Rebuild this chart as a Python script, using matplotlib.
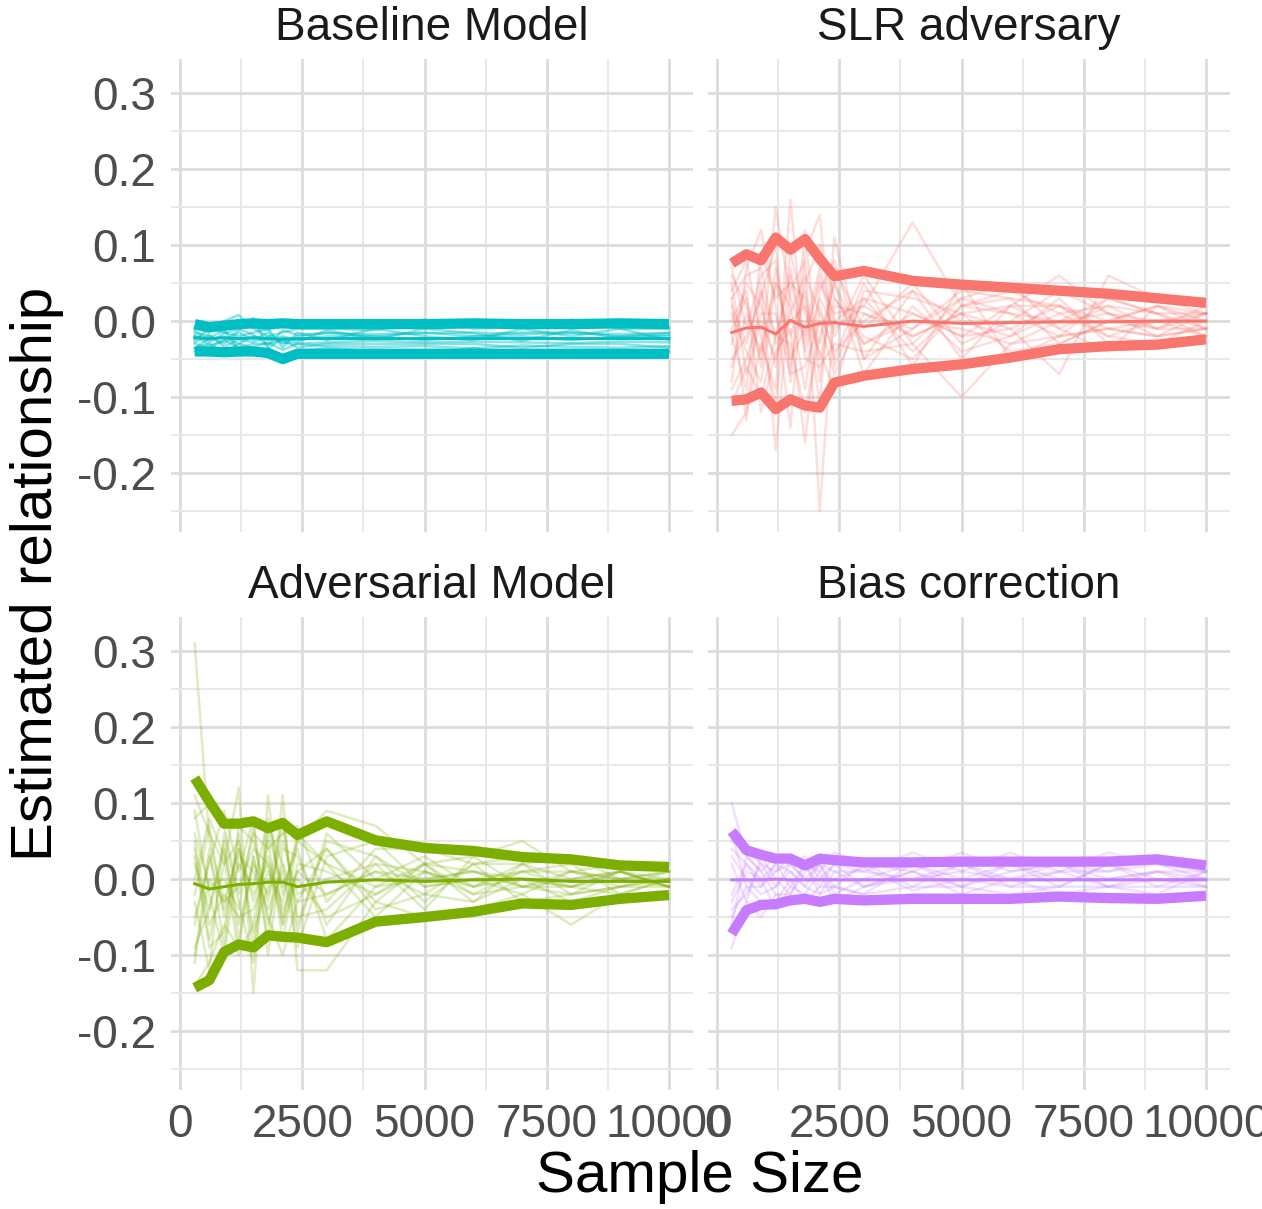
import matplotlib
matplotlib.use("Agg")
import matplotlib.pyplot as plt
import numpy as np

plt.rcParams['font.family'] = ['Liberation Sans', 'DejaVu Sans']

# ---------------- data ----------------
sample_size = [300, 600, 900, 1200, 1500, 1800, 2100, 2400, 3000, 4000, 5000, 6000, 7000, 8000, 9000, 10000]

panel_titles = ["Baseline Model", "SLR adversary", "Adversarial Model", "Bias correction"]
panel_colors = ["#00BFC4", "#F8766D", "#7CAE00", "#C77CFF"]

# Baseline Model
base_upper = [-0.004, -0.008, -0.006, -0.004, -0.003, -0.004, -0.003, -0.004, -0.004, -0.004, -0.004, -0.003, -0.004, -0.004, -0.003, -0.004]
base_mean  = [-0.022, -0.023, -0.022, -0.023, -0.022, -0.023, -0.024, -0.023, -0.023, -0.023, -0.023, -0.023, -0.023, -0.023, -0.023, -0.023]
base_lower = [-0.040, -0.040, -0.041, -0.040, -0.040, -0.042, -0.050, -0.043, -0.043, -0.043, -0.043, -0.043, -0.043, -0.043, -0.043, -0.043]
base_runs = [
    [-0.010, -0.015, 0.000, 0.008, -0.010, -0.020, -0.015, -0.010, -0.010, -0.012, 0.002, -0.010, -0.008, 0.002, -0.010, -0.010],
    [-0.035, -0.030, -0.040, -0.030, -0.035, -0.040, -0.052, -0.040, -0.035, -0.040, -0.045, -0.035, -0.048, -0.040, -0.040, -0.040],
    [-0.020, -0.025, -0.020, -0.030, -0.020, -0.025, -0.020, -0.025, -0.020, -0.020, -0.025, -0.020, -0.020, -0.025, -0.020, -0.020],
    [-0.015, -0.020, -0.030, -0.015, -0.025, -0.015, -0.030, -0.020, -0.015, -0.020, -0.015, -0.020, -0.015, -0.015, -0.020, -0.015],
    [-0.030, -0.035, -0.025, -0.035, -0.030, -0.030, -0.025, -0.035, -0.030, -0.030, -0.030, -0.030, -0.035, -0.030, -0.030, -0.035],
    [-0.025, -0.010, -0.015, -0.020, -0.015, -0.010, -0.035, -0.015, -0.025, -0.010, -0.020, -0.025, -0.010, -0.020, -0.010, -0.025],
    [-0.008, -0.012, -0.010, -0.006, -0.008, -0.012, -0.006, -0.008, -0.007, -0.008, -0.006, -0.007, -0.008, -0.006, -0.007, -0.008],
    [-0.040, -0.038, -0.036, -0.038, -0.040, -0.036, -0.045, -0.040, -0.040, -0.038, -0.040, -0.041, -0.040, -0.039, -0.040, -0.041],
    [-0.028, -0.018, -0.034, -0.024, -0.028, -0.020, -0.028, -0.030, -0.028, -0.026, -0.028, -0.027, -0.028, -0.029, -0.027, -0.028],
    [-0.012, -0.028, -0.016, -0.010, -0.018, -0.032, -0.012, -0.018, -0.016, -0.017, -0.016, -0.015, -0.017, -0.016, -0.017, -0.016],
    [-0.036, -0.022, -0.012, -0.038, -0.034, -0.028, -0.038, -0.030, -0.033, -0.034, -0.033, -0.036, -0.032, -0.034, -0.035, -0.033],
    [-0.018, -0.032, -0.026, -0.012, 0.004, -0.036, -0.022, -0.028, -0.012, -0.024, -0.010, -0.016, -0.026, -0.012, -0.022, -0.018],
]

# SLR adversary
slr_upper = [0.076, 0.088, 0.080, 0.110, 0.094, 0.108, 0.082, 0.059, 0.066, 0.053, 0.048, 0.044, 0.040, 0.036, 0.030, 0.024]
slr_mean  = [-0.015, -0.009, -0.008, -0.017, 0.001, -0.008, -0.003, -0.002, -0.007, 0.000, -0.003, -0.002, -0.001, -0.001, 0.000, 0.000]
slr_lower = [-0.105, -0.103, -0.094, -0.116, -0.103, -0.111, -0.114, -0.081, -0.072, -0.063, -0.057, -0.048, -0.037, -0.033, -0.031, -0.024]
slr_runs = [
    [0.06, 0.02, -0.05, 0.15, 0.03, -0.02, 0.05, 0.01, 0.02, 0.13, 0.02, 0.01, 0.00, 0.03, 0.01, 0.01],
    [-0.15, -0.12, -0.03, -0.09, 0.16, -0.05, -0.06, -0.03, -0.04, -0.03, -0.10, -0.03, -0.02, -0.01, -0.02, -0.01],
    [0.03, -0.13, 0.05, -0.17, 0.04, 0.08, -0.25, 0.02, 0.01, -0.02, 0.01, 0.02, 0.06, 0.01, 0.00, 0.00],
    [-0.08, 0.07, 0.12, 0.02, -0.14, 0.09, 0.14, -0.06, 0.03, 0.01, -0.02, -0.01, -0.07, 0.06, 0.03, 0.01],
    [0.01, -0.04, -0.08, 0.05, 0.02, -0.09, 0.04, 0.08, -0.05, -0.01, 0.04, 0.03, 0.02, -0.01, -0.02, -0.01],
    [-0.03, 0.05, 0.02, -0.06, 0.09, 0.01, -0.04, -0.09, 0.04, 0.03, 0.01, -0.04, -0.03, 0.00, 0.02, 0.00],
    [0.07, -0.01, 0.06, 0.08, -0.06, 0.05, 0.10, 0.03, -0.02, -0.05, 0.02, 0.04, 0.01, 0.02, -0.01, 0.02],
    [-0.11, -0.06, -0.10, -0.02, -0.03, -0.12, -0.02, 0.05, -0.07, 0.02, -0.04, -0.02, 0.03, -0.03, -0.03, -0.02],
    [0.04, 0.08, -0.02, -0.11, 0.07, -0.03, 0.06, -0.02, 0.06, -0.03, 0.03, 0.05, -0.01, -0.04, 0.02, 0.01],
    [-0.05, -0.02, 0.03, 0.10, -0.08, 0.12, -0.08, 0.07, -0.01, 0.05, -0.03, 0.00, 0.04, 0.01, -0.01, -0.01],
    [0.00, 0.04, -0.12, -0.04, -0.01, -0.16, 0.02, -0.05, 0.05, -0.06, 0.05, -0.05, -0.02, 0.03, 0.01, -0.02],
    [-0.02, -0.09, 0.09, 0.03, 0.05, 0.03, -0.11, 0.11, -0.05, 0.04, -0.05, 0.02, 0.02, -0.02, -0.03, 0.00],
    [0.02, -0.03, 0.04, -0.02, 0.06, -0.04, 0.03, -0.01, 0.02, -0.02, 0.01, -0.01, 0.02, 0.00, -0.01, 0.01],
    [-0.06, 0.01, -0.04, 0.05, -0.02, 0.04, -0.05, 0.03, -0.03, 0.01, -0.02, 0.02, -0.01, 0.02, 0.01, -0.01],
    [0.05, -0.07, 0.00, -0.05, 0.01, 0.06, 0.01, -0.04, 0.00, 0.04, 0.00, -0.02, 0.01, -0.02, 0.00, 0.01],
    [-0.01, 0.03, -0.06, 0.07, -0.05, -0.01, 0.07, 0.00, 0.03, -0.04, 0.02, 0.03, -0.03, 0.00, 0.02, -0.01],
    [0.03, 0.06, 0.07, -0.03, 0.00, 0.02, -0.03, 0.05, -0.03, 0.00, -0.01, -0.03, 0.00, 0.01, -0.02, 0.01],
    [-0.09, -0.05, 0.01, 0.01, -0.07, -0.06, 0.00, -0.07, 0.01, -0.01, 0.03, 0.01, -0.02, -0.01, 0.00, -0.02],
]

# Adversarial Model
adv_upper = [0.133, 0.102, 0.073, 0.073, 0.076, 0.067, 0.074, 0.058, 0.076, 0.051, 0.041, 0.037, 0.029, 0.026, 0.018, 0.016]
adv_mean  = [-0.006, -0.013, -0.010, -0.007, -0.006, -0.004, -0.004, -0.010, -0.004, -0.001, -0.003, -0.001, 0.000, -0.003, -0.003, -0.003]
adv_lower = [-0.143, -0.133, -0.096, -0.086, -0.090, -0.074, -0.076, -0.077, -0.083, -0.056, -0.050, -0.043, -0.032, -0.034, -0.026, -0.021]
adv_runs = [
    [0.31, 0.05, -0.03, 0.04, -0.02, 0.02, -0.05, 0.01, -0.02, 0.01, 0.00, 0.01, -0.01, 0.00, 0.01, 0.00],
    [0.11, 0.06, 0.02, 0.12, -0.15, 0.11, -0.06, 0.05, 0.09, 0.07, 0.02, 0.03, 0.05, 0.01, 0.02, 0.01],
    [-0.14, -0.11, -0.06, -0.09, 0.03, -0.08, 0.11, -0.12, -0.12, -0.03, -0.05, -0.04, -0.02, -0.06, -0.02, -0.02],
    [0.08, 0.10, 0.07, -0.02, 0.06, 0.04, 0.06, 0.07, -0.03, 0.04, 0.04, 0.02, 0.03, 0.02, 0.02, 0.01],
    [-0.09, -0.04, 0.05, -0.08, 0.03, -0.05, -0.10, -0.03, 0.04, -0.04, -0.02, -0.03, 0.00, -0.03, -0.01, -0.01],
    [0.03, -0.09, -0.07, 0.06, -0.09, 0.07, 0.02, -0.07, 0.06, 0.00, 0.03, -0.01, 0.02, 0.03, 0.00, 0.01],
    [-0.05, 0.02, 0.09, 0.01, 0.08, -0.10, 0.04, 0.03, -0.06, 0.03, -0.03, 0.02, -0.03, -0.02, 0.01, -0.01],
    [0.05, -0.06, -0.02, -0.05, -0.04, 0.01, -0.03, 0.06, 0.02, -0.05, 0.01, -0.02, 0.01, 0.02, -0.02, 0.00],
    [-0.11, 0.04, -0.09, 0.07, 0.05, -0.03, 0.07, -0.05, -0.04, 0.02, -0.04, 0.03, -0.01, -0.01, 0.01, -0.01],
    [0.00, 0.08, 0.03, -0.10, -0.06, 0.05, -0.08, 0.02, 0.01, -0.02, 0.02, -0.03, 0.02, -0.02, -0.01, 0.00],
    [0.09, -0.02, -0.10, 0.03, 0.01, -0.04, 0.01, -0.09, 0.03, 0.05, -0.01, 0.00, -0.02, 0.01, 0.00, -0.01],
    [-0.03, -0.12, 0.06, -0.03, -0.11, 0.06, -0.01, 0.04, -0.08, -0.01, 0.00, 0.01, 0.00, -0.01, -0.02, 0.00],
    [0.02, -0.04, 0.04, -0.06, 0.02, -0.02, 0.05, -0.02, 0.00, 0.02, 0.01, -0.01, 0.01, -0.01, 0.00, 0.01],
    [-0.06, 0.03, -0.04, 0.04, -0.03, 0.03, -0.04, 0.01, 0.04, -0.03, 0.02, 0.01, -0.01, 0.01, -0.01, 0.00],
    [0.06, -0.01, 0.00, -0.04, 0.07, -0.06, 0.02, -0.03, -0.02, 0.01, -0.02, 0.02, 0.02, 0.00, 0.01, -0.01],
    [-0.02, 0.07, -0.05, 0.02, -0.01, 0.08, -0.02, 0.05, 0.02, -0.01, 0.02, -0.02, -0.01, -0.02, -0.01, 0.01],
    [0.04, -0.08, 0.02, 0.05, -0.07, -0.01, 0.08, -0.06, 0.05, 0.03, -0.01, 0.00, 0.01, 0.01, 0.00, 0.00],
    [-0.10, 0.00, -0.03, -0.01, 0.04, 0.02, -0.06, 0.00, -0.05, -0.02, 0.01, -0.01, 0.00, -0.01, 0.01, -0.01],
]

# Bias correction
bias_upper = [0.063, 0.038, 0.032, 0.027, 0.027, 0.018, 0.027, 0.025, 0.022, 0.022, 0.023, 0.023, 0.023, 0.023, 0.026, 0.018]
bias_mean  = [-0.001, -0.001, -0.001, 0.000, -0.001, -0.001, -0.001, -0.001, -0.001, -0.001, -0.001, -0.001, -0.001, -0.001, -0.001, -0.001]
bias_lower = [-0.072, -0.041, -0.034, -0.033, -0.028, -0.026, -0.030, -0.026, -0.028, -0.026, -0.026, -0.026, -0.023, -0.025, -0.026, -0.022]
bias_runs = [
    [0.10, 0.03, 0.01, 0.03, 0.02, 0.00, 0.02, 0.01, 0.01, 0.035, 0.01, 0.035, 0.01, 0.035, 0.02, 0.01],
    [-0.09, -0.03, -0.05, -0.02, -0.03, -0.02, -0.03, -0.02, -0.03, -0.02, -0.02, -0.03, -0.02, -0.02, -0.02, -0.02],
    [0.05, 0.04, 0.02, 0.01, 0.03, 0.02, 0.01, 0.035, 0.02, 0.01, 0.035, 0.01, 0.02, 0.01, 0.03, 0.02],
    [-0.05, -0.01, -0.03, -0.03, 0.00, -0.03, -0.01, -0.01, -0.02, -0.01, -0.01, -0.02, -0.01, -0.01, -0.01, -0.01],
    [0.02, -0.03, 0.03, 0.00, -0.02, 0.01, 0.02, -0.02, 0.00, 0.02, -0.01, 0.01, 0.02, -0.01, 0.01, 0.00],
    [-0.02, 0.02, -0.01, 0.02, 0.01, -0.01, -0.02, 0.01, -0.01, 0.00, 0.02, -0.01, -0.01, 0.02, -0.01, 0.01],
    [0.03, 0.00, -0.02, -0.01, 0.02, 0.03, 0.00, 0.00, 0.015, -0.015, 0.00, 0.02, 0.00, 0.00, 0.01, -0.01],
    [-0.03, 0.01, 0.00, -0.04, -0.01, -0.02, 0.01, -0.03, -0.01, 0.01, -0.02, 0.00, -0.02, -0.01, 0.00, 0.00],
    [0.04, 0.02, 0.00, 0.02, -0.01, 0.02, -0.01, 0.02, 0.01, 0.00, 0.01, 0.00, 0.01, 0.01, 0.02, 0.00],
    [-0.04, -0.02, 0.02, -0.01, 0.01, -0.01, 0.02, -0.01, -0.02, 0.02, 0.00, -0.01, 0.01, -0.01, -0.02, 0.01],
    [0.06, -0.01, -0.01, 0.01, 0.02, 0.00, 0.00, 0.02, -0.01, 0.01, -0.01, 0.02, -0.01, 0.02, 0.00, -0.01],
    [-0.06, 0.03, 0.01, -0.02, -0.02, 0.02, -0.02, -0.01, 0.02, -0.01, 0.02, 0.00, 0.02, 0.00, 0.01, 0.01],
]

x_ticks = [0, 2500, 5000, 7500, 10000]
x_tick_labels = ["0", "2500", "5000", "7500", "10000"]
y_ticks = [-0.2, -0.1, 0.0, 0.1, 0.2, 0.3]
y_tick_labels = ["-0.2", "-0.1", "0.0", "0.1", "0.2", "0.3"]

panels = [
    (base_runs, base_mean, base_upper, base_lower),
    (slr_runs, slr_mean, slr_upper, slr_lower),
    (adv_runs, adv_mean, adv_upper, adv_lower),
    (bias_runs, bias_mean, bias_upper, bias_lower),
]
run_alpha = [0.45, 0.24, 0.24, 0.24]

# ---------------- layout ----------------
W, H = 1262, 1209
fig = plt.figure(figsize=(W / 100, H / 100), dpi=100)
fig.patch.set_facecolor("white")

lefts = [171, 708]
tops = [59, 617]
pw, ph = 521.7, 473.3

tick_color = "#4D4D4D"
title_color = "#1A1A1A"

for i, (runs, mean, upper, lower) in enumerate(panels):
    r, c = divmod(i, 2)
    ax = fig.add_axes([lefts[c] / W, 1 - (tops[r] + ph) / H, pw / W, ph / H])
    col = panel_colors[i]
    for run in runs:
        ax.plot(sample_size, run, color=col, alpha=run_alpha[i], lw=1.8, zorder=2,
                solid_joinstyle="round")
    ax.plot(sample_size, mean, color=col, lw=2.2, zorder=3, solid_joinstyle="round")
    for b in (upper, lower):
        ax.plot(sample_size, b, color=col, lw=7.4, zorder=4,
                solid_capstyle="butt", solid_joinstyle="round")

    ax.set_xlim(-185, 10485)
    ax.set_ylim(-0.278, 0.345)
    ax.set_xticks(x_ticks)
    ax.set_xticks([1250, 3750, 6250, 8750], minor=True)
    ax.set_yticks(y_ticks)
    ax.set_yticks([-0.25, -0.15, -0.05, 0.05, 0.15, 0.25], minor=True)
    ax.grid(which="major", color="#DCDCDC", lw=2.0, zorder=0)
    ax.grid(which="minor", color="#E8E8E8", lw=1.4, zorder=0)
    ax.set_axisbelow(True)
    for s in ax.spines.values():
        s.set_visible(False)
    ax.tick_params(which="both", length=0)
    if c == 0:
        ax.set_yticklabels(y_tick_labels, fontsize=33, color=tick_color)
        ax.tick_params(axis="y", pad=11)
    else:
        ax.set_yticklabels([])
    if r == 1:
        ax.set_xticklabels(x_tick_labels, fontsize=33, color=tick_color)
        ax.tick_params(axis="x", pad=9)
    else:
        ax.set_xticklabels([])
    ax.set_title(panel_titles[i], fontsize=33, color=title_color, pad=14)

fig.text(37 / W, 1 - 574 / H, "Estimated relationship", rotation=90,
         fontsize=42, ha="center", va="center", color="black")
fig.text(700 / W, 1 - 1177 / H, "Sample Size", fontsize=42,
         ha="center", va="center", color="black")

fig.savefig("out.png", dpi=100, facecolor="white")
